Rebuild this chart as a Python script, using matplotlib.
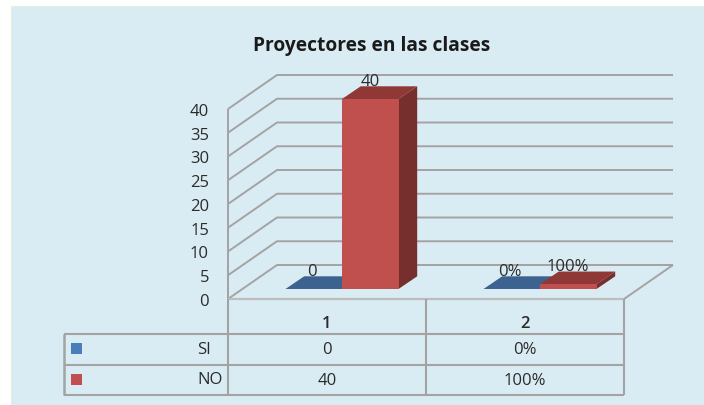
import matplotlib
matplotlib.use('Agg')
import matplotlib.pyplot as plt
from matplotlib.patches import Polygon, Rectangle

plt.rcParams['font.family'] = ['Open Sans', 'DejaVu Sans']

# data
title = 'Proyectores en las clases'
categories = ['1', '2']
series = ['SI', 'NO']
si_values = [0, 0]
no_values = [40, 1]
si_labels = ['0', '0%']
no_labels = ['40', '100%']
y_ticks = [0, 5, 10, 15, 20, 25, 30, 35, 40]

# colours
bg = '#DAECF3'
grid = '#A3A3A3'
text_c = '#2b2b2b'
colors = {'SI': ('#4A7EBB', '#3C6390', '#33557c'), 'NO': ('#C0504D', '#8F3835', '#772F2D')}

# layout in pixels of the 3d look
x0, x1 = 228, 624      # front floor edge
y0 = 300
unit = 4.75            # px per y unit
dx, dy = 49, -34       # depth of the walls
bar_dx, bar_dy = 18.7, -12.7
bar_w = 56.5
bar_y = 290
bar_shift = 15         # bars sit right of the category centre
cat_w = (x1 - x0) / len(categories)
fs = 12

fig = plt.figure(figsize=(7.04, 4.06), dpi=100, facecolor='white')
ax = fig.add_axes([0, 0, 1, 1])
ax.set_xlim(0, 704)
ax.set_ylim(406, 0)
ax.axis('off')
ax.add_patch(Rectangle((10.5, 7), 694, 399, fc=bg, ec='#E8EEDC', lw=0.8))


def line(xs, ys, lw=1.4, c=grid):
    ax.plot(xs, ys, color=c, lw=lw, solid_capstyle='butt', zorder=2)


# walls and gridlines
for t in y_ticks:
    y = y0 - t * unit
    line([x0, x0 + dx, x1 + dx], [y, y + dy, y + dy])
    ax.text(x0 - 19, y + 2, str(t), ha='right', va='center', fontsize=fs, color=text_c)
line([x0, x0], [y0, y0 - max(y_ticks) * unit])
line([x1, x1 + dx], [y0, y0 + dy])
line([x0, x1], [y0, y0], c='#BDBDBD', lw=1.6)


def bar3d(left, value, name):
    front, top, side = colors[name]
    h = value * unit
    t = bar_y - h
    r = left + bar_w
    ax.add_patch(Polygon([(left, t), (left + bar_dx, t + bar_dy), (r + bar_dx, t + bar_dy), (r, t)],
                         fc=top, ec='none', zorder=3))
    ax.add_patch(Polygon([(r, t), (r + bar_dx, t + bar_dy), (r + bar_dx, bar_y + bar_dy), (r, bar_y)],
                         fc=side, ec='none', zorder=3))
    ax.add_patch(Rectangle((left, t), bar_w, h, fc=front, ec='none', zorder=3))
    return t


for i in range(len(categories)):
    mid = x0 + cat_w * (i + 0.5) + bar_shift
    t_si = bar3d(mid - bar_w, si_values[i], 'SI')
    t_no = bar3d(mid, no_values[i], 'NO')
    ax.text(mid - 30, t_si - 18, si_labels[i], ha='center', va='center', fontsize=fs, color=text_c, zorder=4)
    ax.text(mid + 28, t_no - 18, no_labels[i], ha='center', va='center', fontsize=fs, color=text_c, zorder=4)

# data table
tbl_left = 63.5
row_y = [300, 335, 365.5, 396]
line([x0, x0], [row_y[0], row_y[-1]], lw=1.5)
line([x1, x1], [row_y[0], row_y[-1]], lw=1.5)
line([x0 + cat_w, x0 + cat_w], [row_y[0], row_y[-1]], lw=1.5)
line([tbl_left, tbl_left], [row_y[1], row_y[-1]], lw=1.8)
for y in row_y[1:]:
    line([tbl_left, x1], [y, y], lw=1.5)

for i, cat in enumerate(categories):
    cx = x0 + cat_w * (i + 0.5)
    ax.text(cx, 324, cat, ha='center', va='center', fontsize=fs, fontweight='semibold', color=text_c)
    ax.text(cx, 350, si_labels[i], ha='center', va='center', fontsize=fs, color=text_c)
    ax.text(cx, 381, no_labels[i], ha='center', va='center', fontsize=fs, color=text_c)

for j, name in enumerate(series):
    cy = (row_y[j + 1] + row_y[j + 2]) / 2 - 0.5
    ax.add_patch(Rectangle((71, cy - 5.5), 11, 11, fc=colors[name][0], ec='none'))
    ax.text(197, cy, name, ha='left', va='center', fontsize=fs, color=text_c)

ax.text(372, 46, title, ha='center', va='center', fontsize=13.8, fontweight='bold', color='#1a1a1a')

fig.savefig('out.png', dpi=100, facecolor='white')
